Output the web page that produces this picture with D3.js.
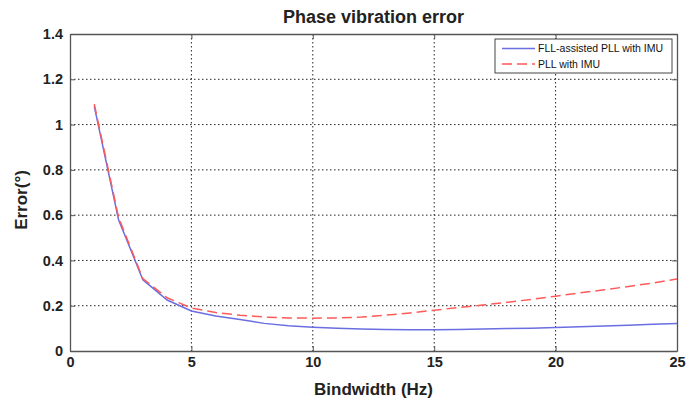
<!DOCTYPE html>
<html>
<head>
<meta charset="utf-8">
<script src="https://cdn.jsdelivr.net/npm/d3@7"></script>
<style>
  body { margin: 0; background: #fff; }
  text { font-family: "Liberation Sans", Arial, sans-serif; }
</style>
</head>
<body>
<div id="chart"></div>
<script>
var bandwidth = [1, 2, 3, 4, 5, 6, 7, 8, 9, 10, 11, 12, 13, 14, 15, 16, 17, 18, 19, 20, 21, 22, 23, 24, 25];
var fllPll = [1.08, 0.58, 0.315, 0.225, 0.177, 0.155, 0.139, 0.122, 0.112, 0.105, 0.1, 0.097, 0.095,
    0.094, 0.094, 0.095, 0.097, 0.099, 0.101, 0.104, 0.107, 0.11, 0.114, 0.118, 0.122];
var pllImu = [1.09, 0.59, 0.32, 0.235, 0.19, 0.17, 0.158, 0.15, 0.146, 0.145, 0.146, 0.15, 0.158,
    0.168, 0.18, 0.192, 0.203, 0.215, 0.228, 0.242, 0.257, 0.27, 0.285, 0.3, 0.318];
var xTicks = [0, 5, 10, 15, 20, 25];
var yTicks = [0, 0.2, 0.4, 0.6, 0.8, 1, 1.2, 1.4];
var seriesNames = ["FLL-assisted PLL with IMU", "PLL with IMU"];

var svgWidth = 686, svgHeight = 412;
var plotLeft = 70, plotRight = 677, plotTop = 34, plotBottom = 351;

var svg = d3.select("#chart").append("svg")
    .attr("width", svgWidth)
    .attr("height", svgHeight);

var xScale = d3.scaleLinear().domain([0, 25]).range([plotLeft, plotRight]);
var yScale = d3.scaleLinear().domain([0, 1.4]).range([plotBottom, plotTop]);

// dotted grid
svg.selectAll(".vgrid")
    .data(xTicks.slice(1, -1))
    .enter()
    .append("line")
    .attr("x1", function(d) { return xScale(d); })
    .attr("x2", function(d) { return xScale(d); })
    .attr("y1", plotTop)
    .attr("y2", plotBottom)
    .attr("stroke", "#222")
    .attr("stroke-width", 1)
    .attr("stroke-dasharray", "1.5,2.5");

svg.selectAll(".hgrid")
    .data(yTicks.slice(1, -1))
    .enter()
    .append("line")
    .attr("x1", plotLeft)
    .attr("x2", plotRight)
    .attr("y1", function(d) { return yScale(d); })
    .attr("y2", function(d) { return yScale(d); })
    .attr("stroke", "#222")
    .attr("stroke-width", 1)
    .attr("stroke-dasharray", "1.5,2.5");

// axes (ticks pointing inward, box on all sides)
var axisBottom = d3.axisBottom(xScale).tickValues(xTicks).tickSizeInner(-5).tickSizeOuter(0).tickPadding(6);
var axisTop = d3.axisTop(xScale).tickValues(xTicks).tickSizeInner(-5).tickSizeOuter(0).tickFormat("");
var axisLeft = d3.axisLeft(yScale).tickValues(yTicks).tickSizeInner(-5).tickSizeOuter(0).tickPadding(7)
    .tickFormat(function(d) { return d3.format("")(+d.toFixed(1)); });
var axisRight = d3.axisRight(yScale).tickValues(yTicks).tickSizeInner(-5).tickSizeOuter(0).tickFormat("");

svg.append("g").attr("class", "axis").attr("transform", "translate(0," + plotBottom + ")").call(axisBottom);
svg.append("g").attr("class", "axis").attr("transform", "translate(0," + plotTop + ")").call(axisTop);
svg.append("g").attr("class", "axis").attr("transform", "translate(" + plotLeft + ",0)").call(axisLeft);
svg.append("g").attr("class", "axis").attr("transform", "translate(" + plotRight + ",0)").call(axisRight);

svg.selectAll(".axis path").attr("stroke", "#555").attr("stroke-width", 1.3);
svg.selectAll(".axis line").attr("stroke", "#555");
svg.selectAll(".axis text")
    .attr("fill", "#222")
    .style("font-size", "14.5px")
    .style("font-weight", "bold");

// lines
var line = d3.line()
    .x(function(d) { return xScale(d[0]); })
    .y(function(d) { return yScale(d[1]); });

svg.append("path")
    .datum(d3.zip(bandwidth, fllPll))
    .attr("d", line)
    .attr("fill", "none")
    .attr("stroke", "#6a6ee0")
    .attr("stroke-width", 1.5);

svg.append("path")
    .datum(d3.zip(bandwidth, pllImu))
    .attr("d", line)
    .attr("fill", "none")
    .attr("stroke", "#ff5a5a")
    .attr("stroke-width", 1.5)
    .attr("stroke-dasharray", "10,5");

// title and labels
svg.append("text")
    .attr("x", (plotLeft + plotRight) / 2)
    .attr("y", 23)
    .attr("text-anchor", "middle")
    .style("font-size", "18px")
    .style("font-weight", "bold")
    .attr("fill", "#222")
    .text("Phase vibration error");

svg.append("text")
    .attr("x", (plotLeft + plotRight) / 2)
    .attr("y", 395)
    .attr("text-anchor", "middle")
    .style("font-size", "17px")
    .style("font-weight", "bold")
    .attr("fill", "#222")
    .text("Bindwidth (Hz)");

svg.append("text")
    .attr("transform", "translate(27,200) rotate(-90)")
    .attr("text-anchor", "middle")
    .style("font-size", "17px")
    .style("font-weight", "bold")
    .attr("fill", "#222")
    .text("Error(°)");

// legend
var legend = svg.append("g").attr("transform", "translate(495,39)");
legend.append("rect")
    .attr("width", 177)
    .attr("height", 34)
    .attr("fill", "#fff")
    .attr("stroke", "#444")
    .attr("stroke-width", 1);

var legendColors = ["#6a6ee0", "#ff5a5a"];
var legendDash = ["none", "10,5"];
var items = legend.selectAll(".item")
    .data(seriesNames)
    .enter()
    .append("g")
    .attr("transform", function(d, i) { return "translate(0," + (9.5 + i * 15.5) + ")"; });

items.append("line")
    .attr("x1", 7)
    .attr("x2", 40)
    .attr("stroke", function(d, i) { return legendColors[i]; })
    .attr("stroke-width", 1.5)
    .attr("stroke-dasharray", function(d, i) { return legendDash[i]; });

items.append("text")
    .attr("x", 43)
    .attr("y", 3.8)
    .style("font-size", "10.5px")
    .attr("fill", "#111")
    .text(function(d) { return d; });
</script>
</body>
</html>
